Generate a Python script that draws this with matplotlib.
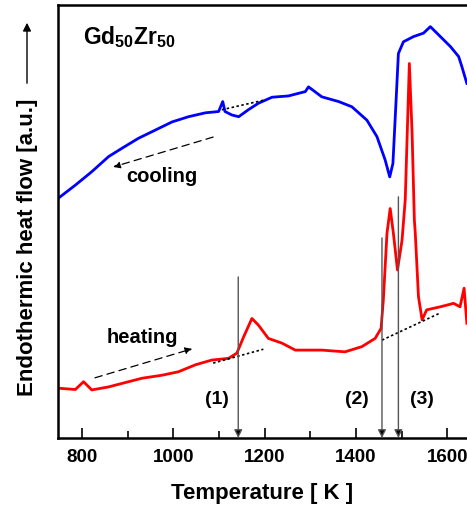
"""
DSC trace of Gd50Zr50: heating and cooling curves with onset markers.
"""

import matplotlib
matplotlib.use("Agg")
import matplotlib.pyplot as plt


# cooling curve (blue), temperature in K, heat flow in a.u.
cooling_T = [748, 785, 821, 858, 887, 923, 960, 997, 1033, 1070, 1099, 1108,
             1113, 1128, 1143, 1164, 1186, 1216, 1252, 1289, 1296, 1325, 1362,
             1391, 1424, 1446, 1464, 1474, 1481, 1488, 1493, 1504, 1526, 1548,
             1563, 1585, 1607, 1625, 1632, 1643]
cooling_q = [55.4, 58.4, 61.5, 65.0, 66.9, 69.2, 71.1, 73.0, 74.2, 75.1, 75.4, 77.7,
             75.4, 74.6, 74.2, 75.8, 77.3, 78.7, 79.0, 80.0, 81.1, 78.8, 77.7,
             76.5, 73.4, 69.6, 64.2, 60.3, 63.4, 78.1, 88.8, 91.5, 92.7, 93.5,
             95.0, 92.7, 90.4, 88.1, 85.8, 81.9]

# heating curve (red)
heating_T = [748, 785, 803, 821, 858, 887, 931, 975, 1011, 1048, 1084, 1121,
             1139, 1154, 1172, 1186, 1208, 1238, 1267, 1325, 1376, 1413, 1442,
             1455, 1460, 1468, 1475, 1482, 1491, 1501, 1508, 1517, 1523, 1528,
             1530, 1537, 1545, 1555, 1585, 1614, 1628, 1637, 1643]
heating_q = [11.5, 11.2, 13.0, 11.1, 11.8, 12.6, 13.8, 14.5, 15.3, 16.9, 18.0, 18.4,
             19.6, 23.4, 27.6, 26.1, 23.0, 21.9, 20.3, 20.3, 19.9, 21.1, 23.0,
             25.3, 31.9, 47.3, 53.0, 47.3, 38.8, 45.7, 55.0, 86.5, 70.4, 50.3,
             47.3, 32.6, 27.3, 29.6, 30.3, 31.1, 30.3, 34.6, 26.5]

# dotted baselines
base_heat1_T = [1087, 1197]
base_heat1_q = [17.3, 20.5]
base_heat2_T = [1457, 1585]
base_heat2_q = [22.6, 28.9]
base_cool_T = [1106, 1201]
base_cool_q = [75.8, 78.1]

# onset arrows and their labels
onset_T = [1142, 1457, 1493]
onset_top = [37.2, 46.2, 55.7]
onset_labels = ["(1)", "(2)", "(3)"]
onset_label_T = [1096, 1403, 1545]
onset_label_q = 8.8

xticks_major = [800, 1000, 1200, 1400, 1600]
xticks_minor = [900, 1100, 1300, 1500]

FONT = "Liberation Sans"
plt.rcParams["font.family"] = [FONT, "DejaVu Sans"]
plt.rcParams["font.weight"] = "bold"
plt.rcParams["mathtext.fontset"] = "custom"
plt.rcParams["mathtext.bf"] = FONT + ":bold"
plt.rcParams["mathtext.rm"] = FONT + ":bold"

fig = plt.figure(figsize=(4.67, 5.08), dpi=100)
ax = fig.add_axes([58 / 467, 70 / 508, 416.6 / 467, 433 / 508])

ax.plot(cooling_T, cooling_q, color="#0000ff", lw=2.0)
ax.plot(heating_T, heating_q, color="#ff0000", lw=2.0)

for bt, bq in [(base_heat1_T, base_heat1_q), (base_heat2_T, base_heat2_q),
               (base_cool_T, base_cool_q)]:
    ax.plot(bt, bq, color="black", lw=1.2, ls=(0, (1.5, 1.5)))

for t, top in zip(onset_T, onset_top):
    ax.annotate("", xy=(t, 0), xytext=(t, top),
                arrowprops=dict(arrowstyle="-|>", color="#555555", lw=1.0,
                                mutation_scale=12, shrinkA=0, shrinkB=0,
                                fc="black", ec="#555555"))

for lab, lt in zip(onset_labels, onset_label_T):
    ax.text(lt, onset_label_q, lab, ha="center", va="center", fontsize=14,
            fontweight="bold")

# direction hints
ax.annotate("", xy=(1041, 20.6), xytext=(828, 13.9),
            arrowprops=dict(arrowstyle="-|>", color="black", lw=0.9,
                            ls=(0, (6, 4)), mutation_scale=10,
                            shrinkA=0, shrinkB=0))
ax.text(931, 23.1, "heating", ha="center", va="center", fontsize=14.5,
        fontweight="bold")
ax.annotate("", xy=(868, 62.6), xytext=(1087, 69.5),
            arrowprops=dict(arrowstyle="-|>", color="black", lw=0.9,
                            ls=(0, (6, 4)), mutation_scale=10,
                            shrinkA=0, shrinkB=0))
ax.text(975, 60.3, "cooling", ha="center", va="center", fontsize=14.5,
        fontweight="bold")

ax.text(0.06, 0.926, r"Gd$_{\mathbf{50}}$Zr$_{\mathbf{50}}$", transform=ax.transAxes,
        ha="left", va="center", fontsize=16.5, fontweight="bold")

ax.set_xlim(747, 1660)
ax.set_ylim(0, 100)
ax.set_xticks(xticks_major)
ax.set_xticks(xticks_minor, minor=True)
ax.set_yticks([])
ax.tick_params(axis="x", which="major", direction="in", length=7, width=1.2,
               labelsize=13.5, pad=8)
ax.tick_params(axis="x", which="minor", direction="in", length=5, width=1.2)
for lbl in ax.get_xticklabels():
    lbl.set_fontweight("bold")
for sp in ax.spines.values():
    sp.set_linewidth(1.8)

fig.text(262 / 467, 1 - 493 / 508, "Temperature [ K ]", ha="center", va="center",
         fontsize=16, fontweight="bold")
fig.text(28 / 467, 1 - 247 / 508, "Endothermic heat flow [a.u.]", rotation=90,
         ha="center", va="center", fontsize=16, fontweight="bold")
fig.add_artist(matplotlib.patches.FancyArrowPatch(
    (27 / 467, 1 - 86 / 508), (27 / 467, 1 - 20 / 508),
    transform=fig.transFigure, arrowstyle="-|>", mutation_scale=12,
    color="black", lw=1.0))

fig.savefig("out.png", dpi=100)
